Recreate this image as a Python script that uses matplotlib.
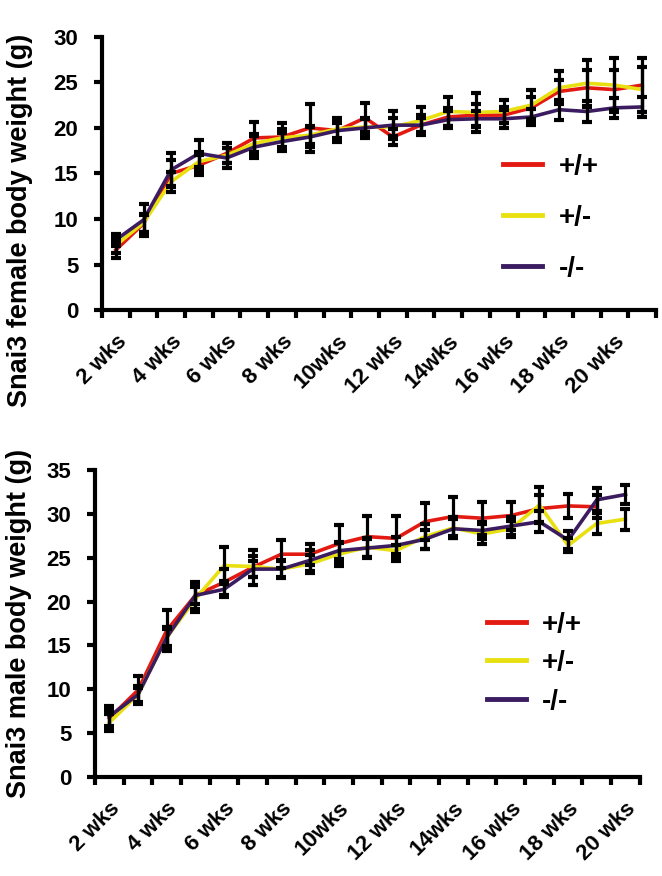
import matplotlib
matplotlib.use("Agg")
import matplotlib.pyplot as plt
import numpy as np

plt.rcParams["font.family"] = ["Liberation Sans", "DejaVu Sans"]
plt.rcParams["font.weight"] = "bold"

GENOTYPES = ["+/+", "+/-", "-/-"]
COLORS = ["#e31a12", "#e8e010", "#3b1c60"]

# week labels (every second category carries a label)
female_weeks = ["2 wks", "3 wks", "4 wks", "5 wks", "6 wks", "7 wks", "8 wks", "9 wks", "10wks", "11 wks",
                "12 wks", "13 wks", "14wks", "15 wks", "16 wks", "17 wks", "18 wks", "19 wks", "20 wks", "21 wks"]
male_weeks = female_weeks[:19]

# female body weight (g), mean and SEM
female_wt = [6.6, 9.5, 15.0, 15.9, 17.2, 18.9, 19.0, 20.0, 19.7, 21.1,
             19.0, 20.3, 21.2, 21.4, 21.4, 22.2, 24.0, 24.4, 24.2, 24.7]
female_het = [7.1, 9.6, 14.1, 16.3, 17.0, 18.3, 18.9, 19.2, 19.9, 20.1,
              20.1, 20.8, 21.8, 21.7, 21.8, 22.5, 24.4, 24.9, 24.7, 24.2]
female_ko = [7.7, 9.9, 15.4, 17.2, 16.7, 17.9, 18.5, 19.0, 19.7, 20.0,
             20.3, 20.3, 20.9, 21.0, 21.0, 21.2, 22.0, 21.8, 22.2, 22.3]
female_wt_err = [0.9, 0.9, 1.5, 1.1, 1.1, 1.8, 1.5, 2.6, 1.2, 1.6,
                 0.9, 1.1, 1.0, 1.2, 0.9, 1.2, 1.3, 2.0, 2.2, 3.0]
female_het_err = [0.8, 1.0, 1.1, 1.0, 0.8, 1.0, 1.0, 1.0, 1.2, 0.9,
                  1.0, 1.5, 1.6, 2.1, 1.3, 1.7, 1.8, 2.6, 3.0, 2.5]
female_ko_err = [0.7, 1.8, 1.8, 1.5, 1.1, 1.2, 0.9, 1.1, 0.8, 1.1,
                 1.5, 0.8, 0.9, 0.9, 1.0, 0.9, 1.1, 1.1, 1.1, 1.1]

# male body weight (g), mean and SEM (no +/+ value at the last week)
male_wt = [6.7, 9.9, 16.7, 20.7, 22.2, 23.9, 25.4, 25.4, 26.6, 27.4,
           27.2, 29.1, 29.7, 29.5, 29.8, 30.6, 30.9, 30.8, np.nan]
male_het = [6.2, 9.4, 15.9, 20.3, 24.1, 24.0, 23.7, 24.3, 25.4, 26.2,
            25.8, 27.4, 28.4, 27.7, 28.3, 31.0, 26.4, 28.9, 29.4]
male_ko = [6.9, 9.4, 15.9, 20.7, 21.4, 23.7, 23.7, 24.7, 25.8, 26.1,
           26.4, 27.1, 28.3, 28.1, 28.6, 29.1, 27.0, 31.6, 32.2]
male_wt_err = [0.9, 1.6, 2.3, 1.5, 1.5, 2.0, 1.6, 1.2, 2.1, 2.4,
               2.6, 2.1, 2.2, 1.9, 1.6, 1.5, 1.4, 1.3, np.nan]
male_het_err = [1.0, 1.0, 1.2, 1.5, 2.1, 1.2, 0.9, 1.0, 1.3, 1.1,
                0.7, 1.4, 1.2, 1.1, 0.9, 2.1, 0.8, 1.2, 1.2]
male_ko_err = [1.2, 0.8, 1.0, 1.0, 0.9, 0.9, 1.0, 1.2, 1.0, 1.0,
               1.0, 1.1, 1.1, 1.0, 1.0, 1.2, 1.0, 1.3, 1.1]


def draw_panel(ax, weeks, series, errors, ymax, ylabel, label_xy, leg_anchor, leg_spacing):
    n = len(weeks)
    x = np.arange(n) + 0.5
    for vals, color, lab in zip(series, COLORS, GENOTYPES):
        ax.plot(x, vals, color=color, lw=2.6, label=lab, zorder=2)
    for vals, errs in zip(series, errors):
        ax.errorbar(x, vals, yerr=errs, fmt="none", ecolor="black",
                    elinewidth=2.3, capsize=3.5, capthick=3, zorder=3)

    ax.set_xlim(0, n)
    ax.set_ylim(0, ymax)
    ax.set_yticks(np.arange(0, ymax + 1, 5))
    ax.set_xticks(np.arange(0, n + 1))
    ax.set_xticklabels([])
    ax.set_xticks(x[::2], minor=True)
    ax.set_xticklabels(weeks[::2], minor=True, rotation=45, ha="right",
                       rotation_mode="anchor", fontsize=16, fontweight="bold")
    ax.tick_params(axis="x", which="minor", length=0, pad=15)
    ax.tick_params(axis="x", which="major", length=6, width=3, direction="out")
    ax.tick_params(axis="y", length=6, width=3, direction="out", labelsize=16, pad=11)
    for lab in ax.get_yticklabels():
        lab.set_fontweight("bold")

    for side in ("top", "right"):
        ax.spines[side].set_visible(False)
    for side in ("left", "bottom"):
        ax.spines[side].set_linewidth(3)

    ax.set_ylabel(ylabel, fontsize=19.5, fontweight="bold")
    ax.yaxis.set_label_coords(*label_xy)
    leg = ax.legend(loc="center left", bbox_to_anchor=leg_anchor, frameon=False,
                    fontsize=20, handlelength=1.4, handletextpad=0.6,
                    labelspacing=leg_spacing, borderpad=0, borderaxespad=0)
    for line in leg.get_lines():
        line.set_linewidth(3.5)
    for t in leg.get_texts():
        t.set_fontweight("bold")


fig = plt.figure(figsize=(6.62, 8.76), dpi=100)
ax_f = fig.add_axes([0.154, 0.646, 0.837, 0.312])
ax_m = fig.add_axes([0.1435, 0.113, 0.823, 0.3505])

draw_panel(ax_f, female_weeks, [female_wt, female_het, female_ko],
           [female_wt_err, female_het_err, female_ko_err], 30,
           "Snai3 female body weight (g)", (-0.125, 0.33), (0.724, 0.337), 0.9)
draw_panel(ax_m, male_weeks, [male_wt, male_het, male_ko],
           [male_wt_err, male_het_err, male_ko_err], 35,
           "Snai3 male body weight (g)", (-0.115, 0.5), (0.719, 0.371), 0.45)

fig.savefig("out.png", dpi=100)
